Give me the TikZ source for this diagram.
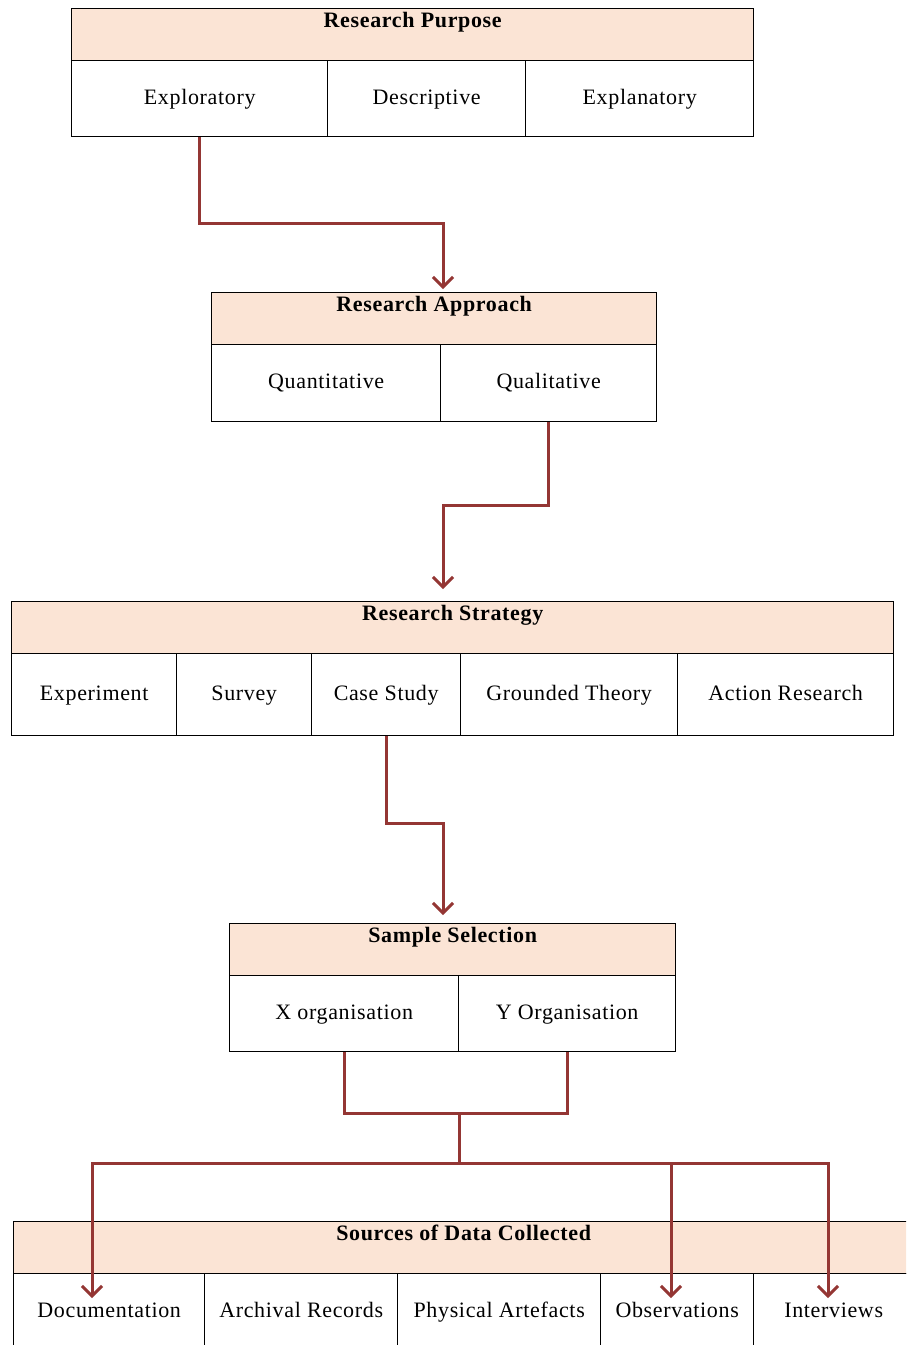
\documentclass[tikz,border=0pt]{standalone}
\usepackage{fontspec}
\setmainfont[LetterSpace=3]{Liberation Serif}
\usetikzlibrary{arrows.meta}
\definecolor{hdrfill}{HTML}{FBE4D5}
\definecolor{arrred}{HTML}{943634}
\begin{document}
\begin{tikzpicture}[x=1pt,y=-1pt,
  font=\fontsize{22}{26}\selectfont,
  hdr/.style={draw=black, line width=1.4pt, fill=hdrfill, anchor=north west, inner sep=0pt,
    text height=19pt, text depth=33pt, font=\fontsize{22}{26}\selectfont\bfseries},
  cell/.style={draw=black, line width=1.4pt, anchor=north west, inner sep=0pt,
    text height=13pt, text depth=2pt},
  link/.style={draw=arrred, line width=3pt},
  arr/.style={link, -{Straight Barb[length=10pt,width=20pt]}}]
\useasboundingbox (0,0) rectangle (906,1345);
\clip (0,0) rectangle (906,1345);
% Box 1
\node[hdr, minimum width=682] (purp) at (71,8) {Research Purpose};
\node[cell, minimum width=256, minimum height=76] (expl) at (71,60) {Exploratory};
\node[cell, minimum width=198, minimum height=76] (desc) at (327,60) {Descriptive};
\node[cell, minimum width=228, minimum height=76] (expn) at (525,60) {Explanatory};
% Box 2
\node[hdr, minimum width=445] (appr) at (211,292) {Research Approach};
\node[cell, minimum width=229, minimum height=77] (quant) at (211,344) {Quantitative};
\node[cell, minimum width=216, minimum height=77] (qual) at (440,344) {Qualitative};
% Box 3
\node[hdr, minimum width=882] (strat) at (11,601) {Research Strategy};
\node[cell, minimum width=165, minimum height=82] (exper) at (11,653) {Experiment};
\node[cell, minimum width=135, minimum height=82] (surv) at (176,653) {Survey};
\node[cell, minimum width=149, minimum height=82] (case) at (311,653) {Case Study};
\node[cell, minimum width=217, minimum height=82] (grnd) at (460,653) {Grounded Theory};
\node[cell, minimum width=216, minimum height=82] (actn) at (677,653) {Action Research};
% Box 4
\node[hdr, minimum width=446] (samp) at (229,923) {Sample Selection};
\node[cell, minimum width=229, minimum height=76] (xorg) at (229,975) {X organisation};
\node[cell, minimum width=217, minimum height=76] (yorg) at (458,975) {Y Organisation};
% Box 5
\node[hdr, minimum width=900] (src) at (13,1221) {Sources of Data Collected};
\node[cell, minimum width=191, minimum height=76] (doc) at (13,1273) {Documentation};
\node[cell, minimum width=193, minimum height=76] (arch) at (204,1273) {Archival Records};
\node[cell, minimum width=203, minimum height=76] (phys) at (397,1273) {Physical Artefacts};
\node[cell, minimum width=153, minimum height=76] (obs) at (600,1273) {Observations};
\node[cell, minimum width=160, minimum height=76] (intv) at (753,1273) {Interviews};
% connectors
\coordinate (k1) at (443,223); \coordinate (t1) at (443,289);
\coordinate (k2) at (443,505); \coordinate (t2) at (443,589);
\coordinate (k3) at (443,823); \coordinate (t3) at (443,915);
\coordinate (j1) at (459,1113); \coordinate (j2) at (459,1163);
\coordinate (d1) at (92,1298); \coordinate (o1) at (671,1298); \coordinate (i1) at (828,1298);
\draw[arr] (expl.south) |- (k1) -- (t1);
\draw[arr] (qual.south) |- (k2) -- (t2);
\draw[arr] (case.south) |- (k3) -- (t3);
\draw[link] (xorg.south) |- (j1) -| (yorg.south);
\draw[link] (j1) -- (j2);
\draw[arr] (j2) -| (d1);
\draw[arr] (j2) -| (o1);
\draw[arr] (j2) -| (i1);
\end{tikzpicture}
\end{document}
